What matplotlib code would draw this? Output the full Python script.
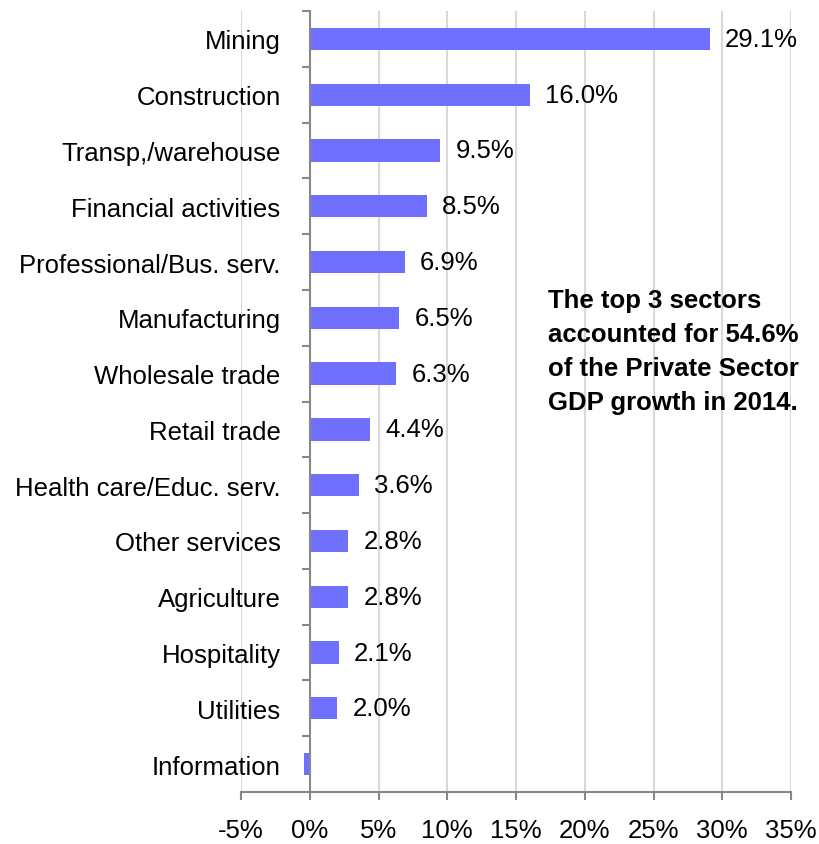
import numpy as np
import matplotlib.pyplot as plt
from matplotlib.ticker import FixedLocator

plt.rcParams['font.family'] = ['Liberation Sans', 'DejaVu Sans']

# data
sectors = ['Mining', 'Construction', 'Transp,/warehouse', 'Financial activities',
           'Professional/Bus. serv.', 'Manufacturing', 'Wholesale trade', 'Retail trade',
           'Health care/Educ. serv.', 'Other services', 'Agriculture', 'Hospitality',
           'Utilities', 'Information']
shares = [29.1, 16.0, 9.5, 8.5, 6.9, 6.5, 6.3, 4.4, 3.6, 2.8, 2.8, 2.1, 2.0, -0.4]
labels = ['29.1%', '16.0%', '9.5%', '8.5%', '6.9%', '6.5%', '6.3%', '4.4%',
          '3.6%', '2.8%', '2.8%', '2.1%', '2.0%', '']
xticks = [-5, 0, 5, 10, 15, 20, 25, 30, 35]
note = 'The top 3 sectors\naccounted for 54.6%\nof the Private Sector\nGDP growth in 2014.'

FS = 18.5
W, H = 819, 845
fig = plt.figure(figsize=(W / 100, H / 100), dpi=100)
ax = fig.add_axes([241 / W, 1 - 793 / H, 550 / W, 781 / H])

y = np.arange(len(sectors))
ax.barh(y, shares, height=0.4, color='#7070ff', zorder=3)
for yi, v, lab in zip(y, shares, labels):
    if lab:
        ax.text(v + 1.1, yi, lab, va='center', ha='left', fontsize=FS)

ax.set_xlim(-5, 35)
ax.set_ylim(len(sectors) - 0.5, -0.5)
ax.set_xticks(xticks)
ax.set_xticklabels([f'{t}%' for t in xticks])
for t in xticks:
    if t != 0:
        ax.axvline(t, color='#d9d9d9', lw=1.5, zorder=1)

ax.set_yticks(y)
ax.set_yticklabels(sectors)
ax.yaxis.set_minor_locator(FixedLocator(np.arange(len(sectors) + 1) - 0.5))
ax.tick_params(axis='y', which='major', length=0, pad=21, labelsize=FS)
ax.tick_params(axis='y', which='minor', length=6, color='#888888', width=1.5, direction='out')
ax.tick_params(axis='x', length=6, color='#888888', width=1.5, direction='out', pad=13,
               labelsize=FS)

for s in ['top', 'right']:
    ax.spines[s].set_visible(False)
ax.spines['left'].set_position(('data', 0))
for s in ['left', 'bottom']:
    ax.spines[s].set_color('#888888')
    ax.spines[s].set_linewidth(1.5)
ax.spines['left'].set_zorder(4)

ax.text(548 / W, 1 - 352 / H, note, transform=fig.transFigure, ha='left', va='center',
        fontsize=18.5, fontweight='bold', linespacing=1.52)

fig.savefig('out.png', dpi=100)
